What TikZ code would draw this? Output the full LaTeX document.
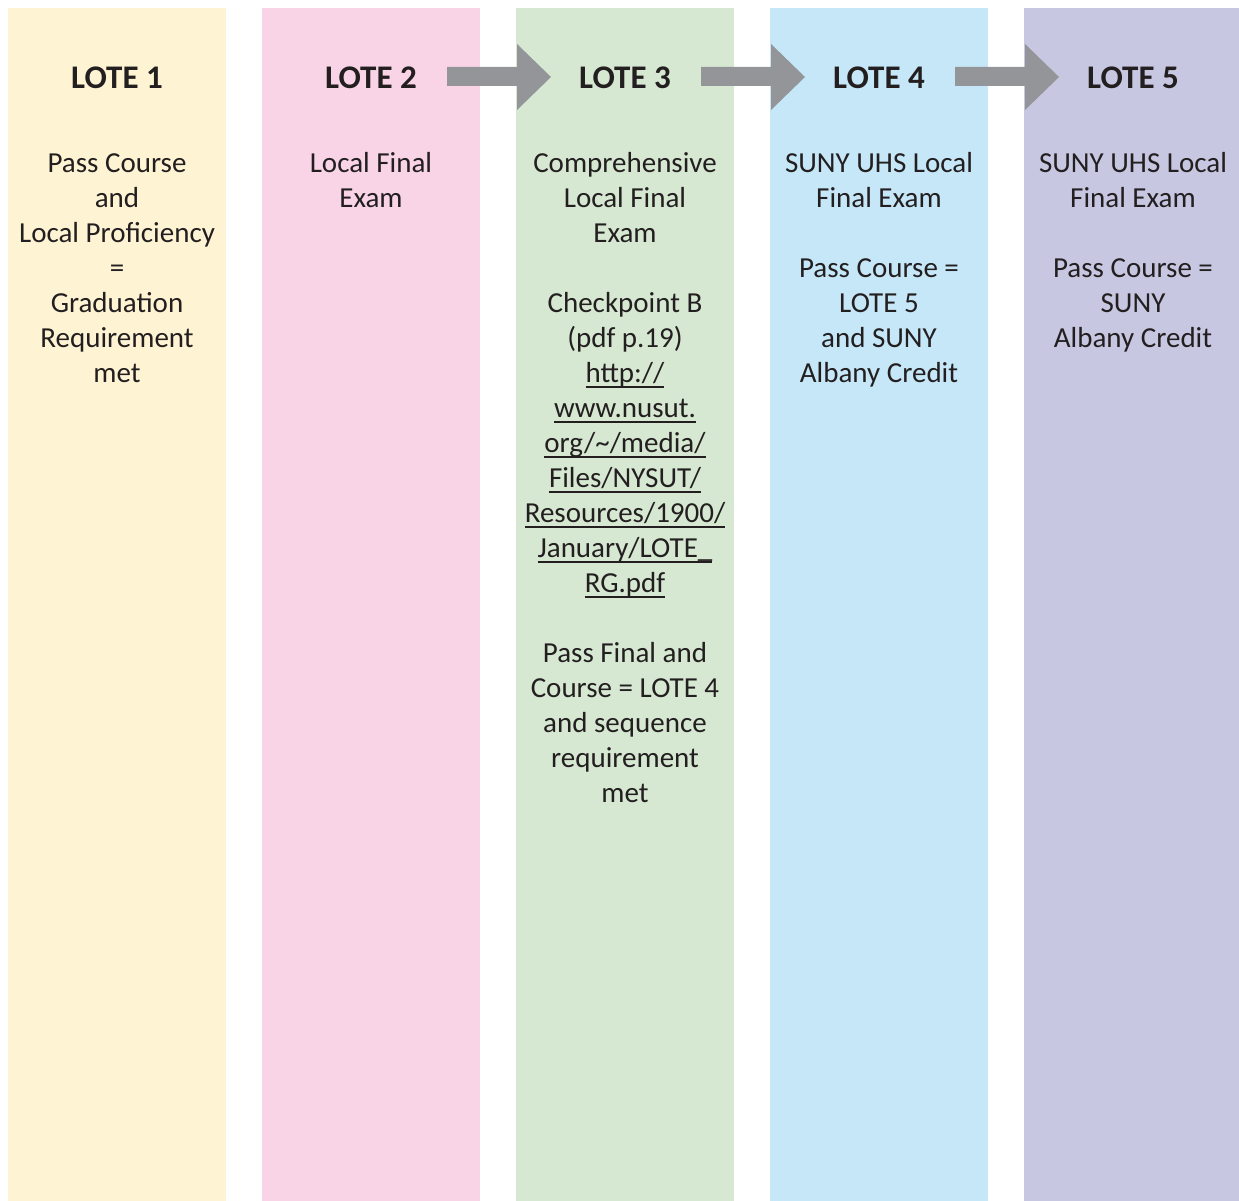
\documentclass[tikz,border=0pt]{standalone}
\usepackage{fontspec}
\setmainfont{Carlito}
\usepackage{tikz}
\usetikzlibrary{positioning}
\definecolor{loteyellow}{HTML}{FEF4D4}
\definecolor{lotepink}{HTML}{F8D4E6}
\definecolor{lotegreen}{HTML}{D6E8D2}
\definecolor{loteblue}{HTML}{C6E7F8}
\definecolor{lotepurple}{HTML}{C7C7E1}
\definecolor{arrowgray}{HTML}{939598}
\definecolor{inkgray}{HTML}{231F20}
\newcommand{\urlpart}[1]{\setbox0\hbox{#1}\rlap{\rule[-5.5pt]{\wd0}{1.3pt}}\box0}

\begin{document}
\begin{tikzpicture}[x=1pt, y=-1pt,
	every node/.style={inner sep=0pt, text=inkgray},
	title/.style={font=\fontsize{33}{39}\selectfont\bfseries, anchor=base},
	body/.style={font=\fontsize{29}{35}\selectfont, align=center, anchor=north}]
		\useasboundingbox (0,0) rectangle (1239,1201);
		\foreach \i/\colfill in {1/loteyellow, 2/lotepink, 3/lotegreen, 4/loteblue, 5/lotepurple}{
			\pgfmathsetmacro{\colx}{8+254*(\i-1)}
			\fill[\colfill] (\colx,8) rectangle ++(218,1193);
			\node[title] (title\i) at (\colx+109,89) {LOTE \i};
		}
		%% block arrows into columns 3 to 5
		\foreach \i in {3,4,5}{
			\pgfmathsetmacro{\lx}{8+254*(\i-1)}
			\fill[arrowgray] (\lx-69,67) -- (\lx+1,67) -- (\lx+1,44) -- (\lx+35,77) -- (\lx+1,110) -- (\lx+1,86) -- (\lx-69,86) -- cycle;
		}
		\node[body] (body1) at (117,147.5) {\strut Pass Course\\and\\Local Proficiency\\=\\Graduation\\Requirement\\met};
		\node[body] (body2) at (371,147.5) {\strut Local Final\\Exam};
		\node[body] (body3) at (625,147.5) {\strut Comprehensive\\Local Final\\Exam\\[35pt]
			Checkpoint B\\(pdf p.19)\\\urlpart{http://}\\\urlpart{www.nusut.}\\\urlpart{org/\textasciitilde/media/}\\\urlpart{Files/NYSUT/}\\\urlpart{Resources/1900/}\\\urlpart{January/LOTE\_}\\\urlpart{RG.pdf}\\[35pt]
			Pass Final and\\Course = LOTE 4\\and sequence\\requirement\\met};
		\node[body] (body4) at (879,147.5) {\strut SUNY UHS Local\\Final Exam\\[35pt]Pass Course =\\LOTE 5\\and SUNY\\Albany Credit};
		\node[body] (body5) at (1133,147.5) {\strut SUNY UHS Local\\Final Exam\\[35pt]Pass Course =\\SUNY\\Albany Credit};
\end{tikzpicture}
\end{document}
